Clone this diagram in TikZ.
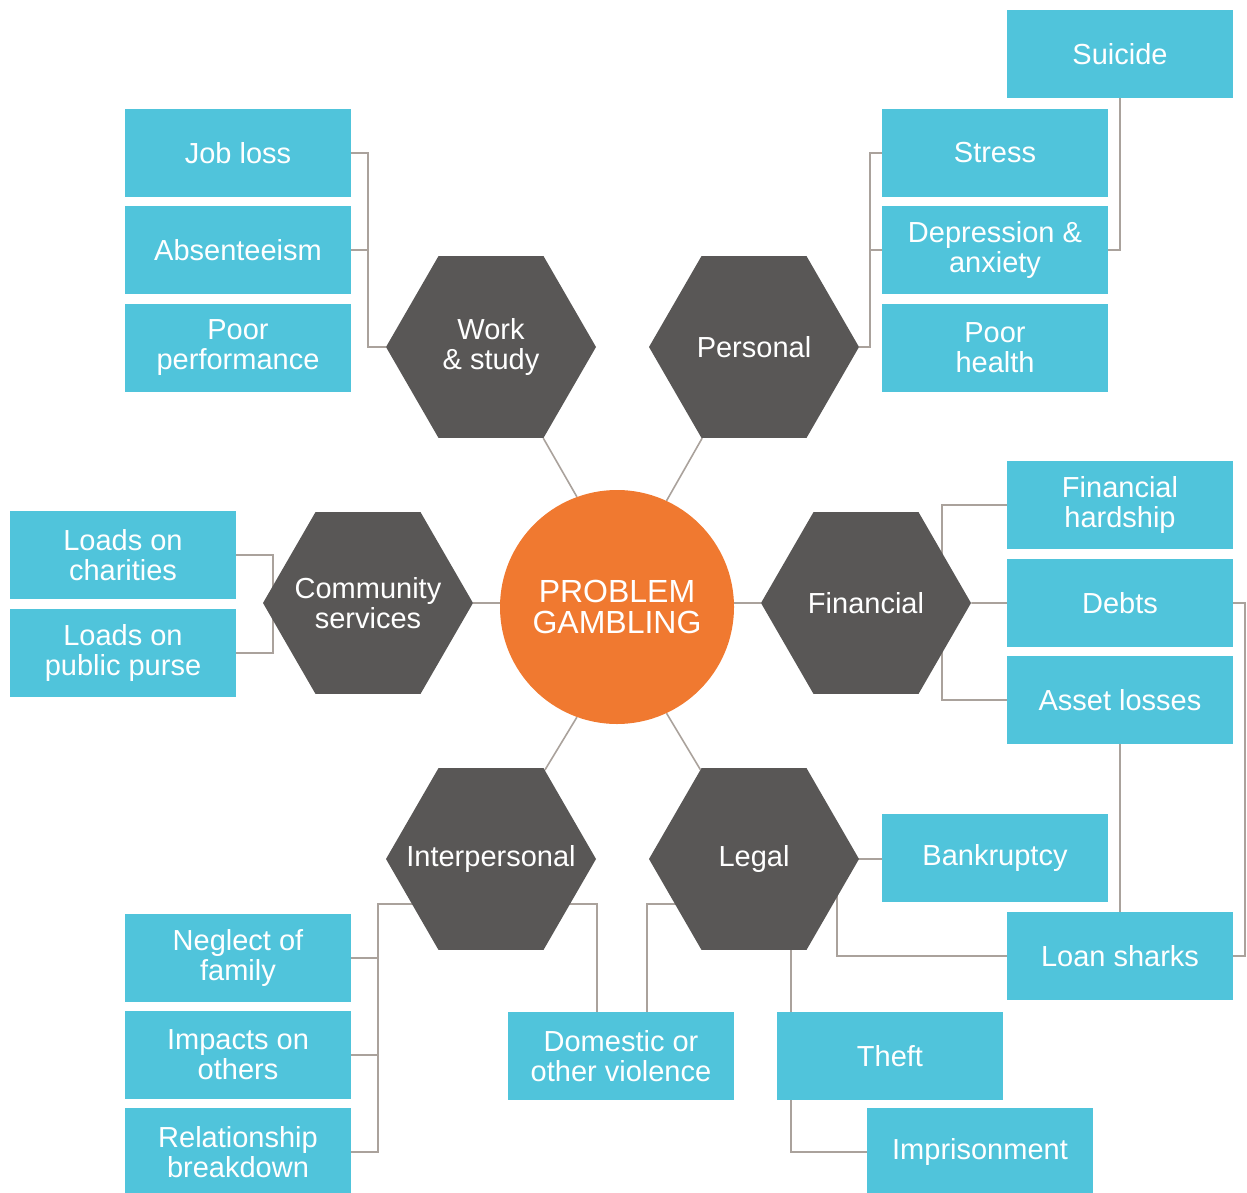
\documentclass[tikz,border=0pt]{standalone}
\usepackage{fontspec}
\setmainfont{Liberation Sans}
\usetikzlibrary{shapes.geometric,backgrounds,calc}

\definecolor{boxblue}{RGB}{80,196,219}
\definecolor{hexgray}{RGB}{89,87,86}
\definecolor{pgorange}{RGB}{240,121,48}
\definecolor{linkgray}{RGB}{170,162,156}

\tikzset{
  effect/.style={fill=boxblue,text=white,minimum width=226pt,minimum height=88pt,
    inner sep=0pt,align=center,font=\fontsize{29}{30}\selectfont},
  area/.style={regular polygon,regular polygon sides=6,minimum size=210pt,inner sep=-40pt,
    fill=hexgray,text=white,align=center,font=\fontsize{29}{30}\selectfont},
  link/.style={draw=linkgray,line width=1.6pt}
}

\begin{document}
\begin{tikzpicture}[x=1pt,y=-1pt]
\useasboundingbox (0,0) rectangle (1247,1193);
% Centre
\node[circle,fill=pgorange,minimum size=234pt,inner sep=0pt,text=white,align=center,
  font=\fontsize{32}{31}\selectfont] (pg) at (617,607) {PROBLEM\\GAMBLING};
% Hexagons (areas)
\node[area] (work) at (491,347) {Work\\\& study};
\node[area] (personal) at (754,347) {Personal};
\node[area] (community) at (368,603) {Community\\services};
\node[area] (financial) at (866,603) {Financial};
\node[area] (interp) at (491,859) {Interpersonal};
\node[area] (legal) at (754,859) {Legal};
% Work & study effects
\node[effect] (jobloss) at (238,153) {Job loss};
\node[effect] (absent) at (238,250) {Absenteeism};
\node[effect] (poorperf) at (238,348) {Poor\\performance};
% Personal effects
\node[effect] (suicide) at (1120,54) {Suicide};
\node[effect] (stress) at (995,153) {Stress};
\node[effect] (depress) at (995,250) {Depression \&\\anxiety};
\node[effect] (poorhealth) at (995,348) {Poor\\health};
% Community effects
\node[effect] (charities) at (123,555) {Loads on\\charities};
\node[effect] (purse) at (123,653) {Loads on\\public purse};
% Financial effects
\node[effect] (hardship) at (1120,505) {Financial\\hardship};
\node[effect] (debts) at (1120,603) {Debts};
\node[effect] (assets) at (1120,700) {Asset losses};
% Legal effects
\node[effect] (bankrupt) at (995,858) {Bankruptcy};
\node[effect] (loansharks) at (1120,956) {Loan sharks};
\node[effect] (theft) at (890,1056) {Theft};
\node[effect] (prison) at (980,1152) {Imprisonment};
\node[effect] (violence) at (621,1056) {Domestic or\\other violence};
% Interpersonal effects
\node[effect] (neglect) at (238,958) {Neglect of\\family};
\node[effect] (impacts) at (238,1055) {Impacts on\\others};
\node[effect] (breakdown) at (238,1152) {Relationship\\breakdown};
% Connectors
\begin{scope}[on background layer]
\draw[link] (work) -- (pg.110);
\draw[link] (personal) -- (pg.65);
\draw[link] (interp) -- (pg.250);
\draw[link] (legal) -- (pg.295);
\draw[link] (community.east) -- (pg.west |- community.east);
\draw[link] (financial.west) -- (pg.east |- financial.west);
% work & study
\draw[link] (jobloss.east) -- ++(17,0) |- (work.west);
\draw[link] (absent.east) -- ++(17,0);
% personal
\draw[link] (stress.west) -- ++(-12,0) |- (personal.east);
\draw[link] (depress.west) -- ++(-12,0);
\draw[link] (suicide.south) |- (depress.east);
% community
\draw[link] (charities.east) -- ++(37,0) |- (purse.east);
% financial
\draw[link] (hardship.west) -- ++(-65,0) |- (assets.west);
\draw[link] (financial.east) -- (debts.west);
\draw[link] (debts.east) -- ++(12,0) |- (loansharks.east);
\draw[link] (assets.south) -- (loansharks.north);
% legal
\draw[link] (legal.east) -- (bankrupt.west |- legal.east);
\draw[link] (loansharks.west) -- ++(-170,0) |- (legal.east);
\draw[link] ($(legal.south)+(37,0)$) |- (prison.west);
\draw[link] ($(violence.north)+(26,0)$) |- ($(legal.center)+(0,45)$);
% interpersonal
\draw[link] ($(interp.center)+(0,45)$) -| ($(violence.north)+(-24,0)$);
\draw[link] ($(interp.center)+(0,45)$) -- ++(-113,0) |- (breakdown.east);
\draw[link] (neglect.east) -- ++(26,0);
\draw[link] (impacts.east) -- ++(26,0);
\end{scope}
\end{tikzpicture}
\end{document}
